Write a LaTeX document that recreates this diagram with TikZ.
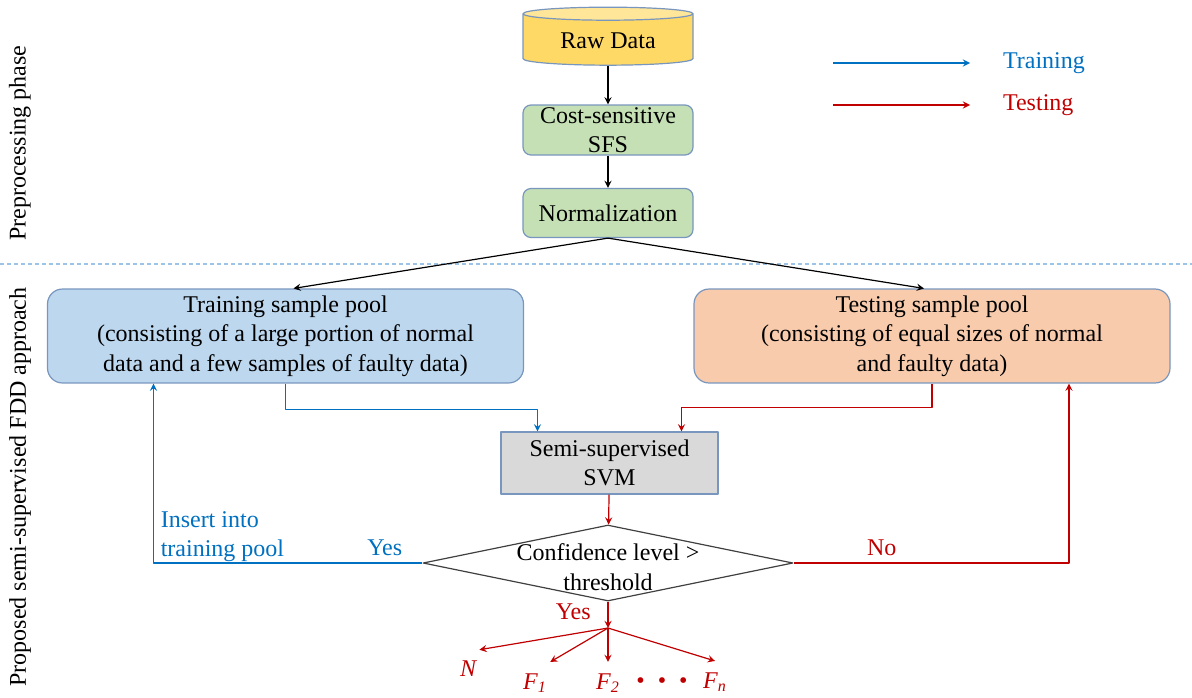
\documentclass[tikz,border=0pt]{standalone}
\usepackage{fontspec}
\setmainfont{Liberation Serif}
\usetikzlibrary{shapes.geometric}
\definecolor{trainblue}{RGB}{0,112,192}
\definecolor{testred}{RGB}{192,0,0}
\definecolor{boxline}{RGB}{120,150,190}
\definecolor{rawfill}{RGB}{255,217,102}
\definecolor{rawtop}{RGB}{255,230,153}
\definecolor{prefill}{RGB}{197,224,180}
\definecolor{trainfill}{RGB}{189,215,238}
\definecolor{testfill}{RGB}{248,203,173}
\definecolor{svmfill}{RGB}{217,217,217}
\definecolor{sepline}{RGB}{157,195,230}
\begin{document}
\begin{tikzpicture}[>=stealth, x=0.5pt, y=-0.5pt, line join=round,
        font=\fontsize{12}{14.7}\selectfont,
        prebox/.style={draw=boxline, fill=prefill, rounded corners=4pt, minimum width=85pt, align=center, inner sep=0pt, line width=0.6pt},
        poolbox/.style={draw=boxline, rounded corners=7.5pt, minimum width=238pt, minimum height=46pt, align=center, line width=0.6pt},
        blk/.style={->, line width=0.6pt},
        trn/.style={->, trainblue, line width=0.6pt},
        tst/.style={->, testred, line width=0.6pt},
        outlbl/.style={testred, font=\fontsize{12}{14}\selectfont\itshape, inner sep=1.5pt}]
        \useasboundingbox (0,0) rectangle (1192,697);
        \node[rotate=90] (prelbl) at (20,143) {Preprocessing phase};
        \node[rotate=90] (fddlbl) at (20,487) {Proposed semi-supervised FDD approach};
        \draw[sepline, line width=0.6pt, dash pattern=on 2pt off 1.5pt] (0,264) -- (1192,264);
        % preprocessing
        \node[cylinder, shape border rotate=90, draw=boxline, cylinder uses custom fill, cylinder body fill=rawfill, cylinder end fill=rawtop,
            minimum width=85pt, minimum height=29pt, aspect=0.12, line width=0.6pt] (raw) at (608,41) {Raw Data};
        \node[prebox, minimum height=25pt] (sfs) at (608,130) {Cost-sensitive\\SFS};
        \node[prebox, minimum height=24.5pt] (norm) at (608,213) {Normalization};
        \draw[blk] (raw) -- (sfs);
        \draw[blk] (sfs) -- (norm);
        % FDD approach
        \node[poolbox, fill=trainfill] (train) at (285.5,336) {Training sample pool\\(consisting of a large portion of normal\\data and a few samples of faulty data)};
        \node[poolbox, fill=testfill] (test) at (932,336) {Testing sample pool\\(consisting of equal sizes of normal\\and faulty data)};
        \node[draw=boxline, fill=svmfill, minimum width=108.5pt, minimum height=31pt, align=center, line width=0.6pt] (svm) at (609.5,463) {Semi-supervised\\SVM};
        \node[diamond, draw=black!75, minimum width=185pt, minimum height=38pt, inner sep=0pt, line width=0.6pt,
            label={[align=center, yshift=-2pt]center:Confidence level >\\threshold}] (dec) at (608,563) {};
        \draw[blk] (norm.south) -- ([xshift=4pt]train.north);
        \draw[blk] (norm.south) -- ([xshift=-4pt]test.north);
        \draw[trn] (train.south) -- ++(0,26) -| ([xshift=-36pt]svm.north);
        \draw[tst] (test.south) -- ++(0,24) -| ([xshift=36pt]svm.north);
        \draw[tst] (svm) -- (dec);
        \draw[trn] (dec.west) -| ([xshift=-66pt]train.south) node[pos=0.07, above] {Yes}
            node[pos=0.5, anchor=south west, align=left, yshift=-3pt] {Insert into\\training pool};
        \draw[tst] (dec.east) -| ([xshift=68.5pt]test.south) node[pos=0.16, above] {No};
        % outputs
        \coordinate (split) at (608,628);
        \draw[tst] (dec.south) -- (split) node[pos=0.4, left, xshift=-5pt] {Yes};
        \node[outlbl] (n) at (468,669) {N};
        \node[outlbl] (f1) at (535,683) {F\textsubscript{1}};
        \node[outlbl] (f2) at (608,683) {F\textsubscript{2}};
        \node[testred] (dots) at (662,683) {\textbullet\hspace{6.5pt}\textbullet\hspace{6.5pt}\textbullet};
        \node[outlbl] (fn) at (715,682) {F\textsubscript{n}};
        \foreach \o/\a in {n/north east, f1/north east, f2/north, fn/north}
            \draw[tst] (split) -- ([yshift=4pt]\o.\a);
        % legend
        \node[trainblue, anchor=west] (lgtrain) at (996,63) {Training};
        \node[testred, anchor=west] (lgtest) at (996,105) {Testing};
        \coordinate (lgtrs) at (833,63);
        \coordinate (lgtss) at (833,105);
        \draw[trn] (lgtrs) -- ([xshift=-13pt]lgtrain.west);
        \draw[tst] (lgtss) -- ([xshift=-13pt]lgtest.west);
    \end{tikzpicture}
\end{document}
